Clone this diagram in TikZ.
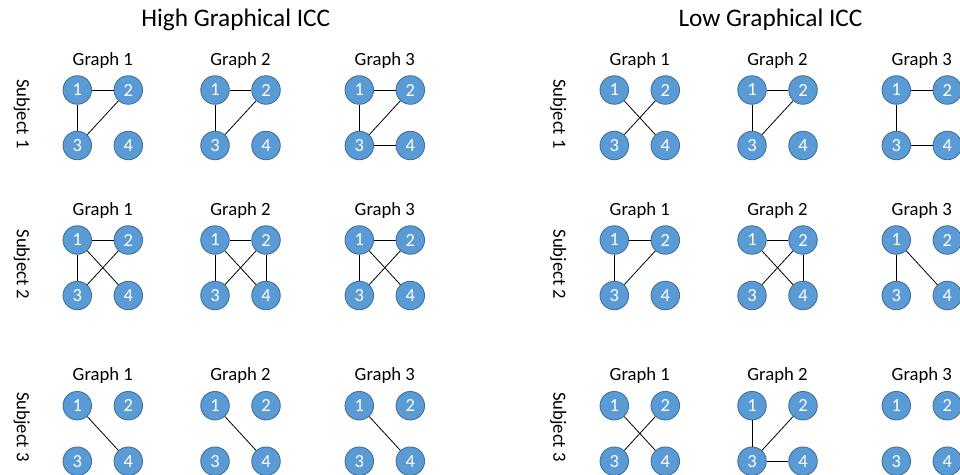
\documentclass[tikz,border=0pt]{standalone}
\usepackage{fontspec}
\setmainfont{Carlito}
\definecolor{nodefill}{HTML}{5B9BD5}
\definecolor{nodeline}{HTML}{41719C}
\tikzset{
  vert/.style={circle, fill=nodefill, draw=nodeline, line width=0.9pt,
    minimum size=28.5pt, inner sep=0pt, text=white,
    font=\fontsize{18.5}{18.5}\selectfont},
  link/.style={draw=black, line width=0.8pt},
  gtitle/.style={anchor=base, font=\fontsize{18.67}{20}\selectfont},
  paneltitle/.style={anchor=base, font=\fontsize{25.3}{27}\selectfont},
  subjlabel/.style={rotate=-90, font=\fontsize{18.67}{20}\selectfont},
}
% #1 name prefix, #2 x of vertex 1, #3 y of vertex 1, #4 caption, #5 edge list
\newcommand\fourgraph[5]{%
  \node[gtitle] (#1t) at (#2+25.5, #3-25) {#4};
  \node[vert] (#1n1) at (#2, #3) {1};
  \node[vert] (#1n2) at (#2+51, #3) {2};
  \node[vert] (#1n3) at (#2, #3+55.5) {3};
  \node[vert] (#1n4) at (#2+51, #3+55.5) {4};
  \foreach \u/\v in {#5} {\draw[link] (#1n\u) -- (#1n\v);}
}
\begin{document}
\begin{tikzpicture}[x=1pt, y=-1pt]
\useasboundingbox (0,0) rectangle (960,474);

% panel headings
\node[paneltitle] (hightitle) at (235.8, 26.7) {High Graphical ICC};
\node[paneltitle] (lowtitle) at (770.5, 26.7) {Low Graphical ICC};

% subject labels
\node[subjlabel] (hsub1) at (21.7, 114) {Subject 1};
\node[subjlabel] (hsub2) at (21.7, 264.5) {Subject 2};
\node[subjlabel] (hsub3) at (21.7, 427) {Subject 3};
\node[subjlabel] (lsub1) at (558.2, 114) {Subject 1};
\node[subjlabel] (lsub2) at (558.2, 264.5) {Subject 2};
\node[subjlabel] (lsub3) at (558.2, 427) {Subject 3};

% high graphical ICC
\fourgraph{ha1}{77.3}{90}{Graph 1}{1/2,1/3,2/3}
\fourgraph{ha2}{215}{90}{Graph 2}{1/2,1/3,2/3}
\fourgraph{ha3}{359.3}{90}{Graph 3}{1/2,1/3,2/3,3/4}
\fourgraph{hb1}{77.3}{240}{Graph 1}{1/2,1/3,1/4,2/3}
\fourgraph{hb2}{215}{240}{Graph 2}{1/2,1/3,1/4,2/3,2/4}
\fourgraph{hb3}{359.3}{240}{Graph 3}{1/2,1/3,1/4,2/3}
\fourgraph{hc1}{77.3}{405.7}{Graph 1}{1/4}
\fourgraph{hc2}{215}{405.7}{Graph 2}{1/4}
\fourgraph{hc3}{359.3}{405.7}{Graph 3}{1/4}

% low graphical ICC
\fourgraph{la1}{614.3}{90}{Graph 1}{1/4,2/3}
\fourgraph{la2}{752}{90}{Graph 2}{1/2,1/3,2/3}
\fourgraph{la3}{896.3}{90}{Graph 3}{1/2,1/3,3/4}
\fourgraph{lb1}{614.3}{240}{Graph 1}{1/2,1/3,2/3}
\fourgraph{lb2}{752}{240}{Graph 2}{1/2,1/4,2/3,2/4}
\fourgraph{lb3}{896.3}{240}{Graph 3}{1/3,1/4}
\fourgraph{lc1}{614.3}{405.7}{Graph 1}{1/4,2/3}
\fourgraph{lc2}{752}{405.7}{Graph 2}{1/3,2/3,3/4}
\fourgraph{lc3}{896.3}{405.7}{Graph 3}{}
\end{tikzpicture}
\end{document}
